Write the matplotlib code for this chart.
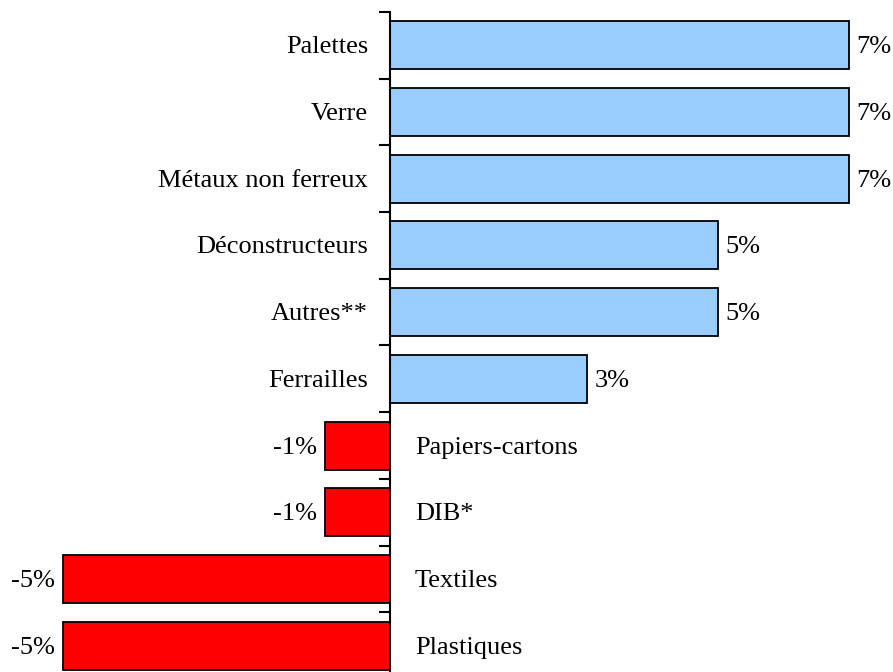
import matplotlib
matplotlib.use('Agg')
import matplotlib.pyplot as plt
import numpy as np

categories = ['Palettes', 'Verre', 'Métaux non ferreux', 'Déconstructeurs', 'Autres**',
              'Ferrailles', 'Papiers-cartons', 'DIB*', 'Textiles', 'Plastiques']
values = [7, 7, 7, 5, 5, 3, -1, -1, -5, -5]

plt.rcParams['font.family'] = ['Liberation Serif', 'DejaVu Serif']
plt.rcParams['font.size'] = 19

fig = plt.figure(figsize=(8.93, 6.72), dpi=100)
# axes cropped at the bottom like the original picture
ax = fig.add_axes([0, 1 - 12/672 - 667/672, 1, 667/672])

y = np.arange(len(categories))
colors = ['#99CCFF' if v > 0 else '#FF0000' for v in values]
ax.barh(y, values, height=0.72, color=colors, edgecolor='black', linewidth=1.3, zorder=2)

scale = 65.5
ax.set_xlim(-390/scale, (893-390)/scale)
ax.set_ylim(len(categories) - 0.5, -0.5)

for i, (c, v) in enumerate(zip(categories, values)):
    if v > 0:
        ax.text(-22/scale, i + 0.03, c, ha='right', va='center')
        ax.text(v + 8/scale, i + 0.03, f'{v}%', ha='left', va='center')
    else:
        ax.text(25/scale, i + 0.03, c, ha='left', va='center')
        ax.text(v - 8/scale, i + 0.03, f'{v}%', ha='right', va='center')

for s in ['top', 'right', 'bottom']:
    ax.spines[s].set_visible(False)
ax.spines['left'].set_position(('data', 0))
ax.spines['left'].set_linewidth(1.5)
ax.spines['left'].set_zorder(3)
ax.set_xticks([])
ax.set_yticks([])
ax.set_yticks(np.arange(-0.5, len(categories), 1), minor=True)
ax.tick_params(axis='y', which='minor', direction='out', length=8, width=1.5, labelleft=False)
ax.patch.set_visible(False)

fig.savefig('out.png', dpi=100)
